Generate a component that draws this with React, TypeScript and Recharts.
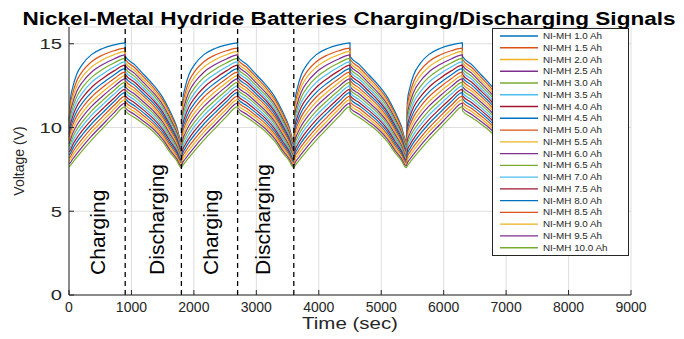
import { LineChart, Line, XAxis, YAxis, CartesianGrid, ReferenceLine, ReferenceDot, Legend, Label } from 'recharts';

const CAPACITIES = ['1.0', '1.5', '2.0', '2.5', '3.0', '3.5', '4.0', '4.5', '5.0', '5.5', '6.0', '6.5', '7.0', '7.5', '8.0', '8.5', '9.0', '9.5', '10.0'];

const COLORS = [
  '#0072BD', '#D95319', '#EDB120', '#7E2F8E', '#77AC30', '#4DBEEE', '#A2142F',
  '#0072BD', '#D95319', '#EDB120', '#7E2F8E', '#77AC30', '#4DBEEE', '#A2142F',
  '#0072BD', '#D95319', '#EDB120', '#7E2F8E', '#77AC30',
];

// one cycle = 900 s charging + 900 s discharging
const CYCLE = 1800;
const CYCLES = 4;

// voltage at t = 0
const START_V = [10.4, 10.26, 10.12, 9.98, 9.84, 9.71, 9.57, 9.43, 9.29, 9.15, 9.02, 8.88, 8.72, 8.54, 8.36, 8.18, 8.0, 7.83, 7.66];

// charging, seconds after the cycle start
const CHARGE_OFFSETS = [20, 60, 120, 220, 360, 540, 720, 900];
const CHARGE_V = [
  [11.6, 12.4, 13.15, 13.8, 14.35, 14.72, 14.93, 15.05],
  [11.3, 12.04, 12.75, 13.38, 13.93, 14.33, 14.58, 14.74],
  [11.05, 11.76, 12.43, 13.06, 13.61, 14.05, 14.34, 14.54],
  [10.8, 11.47, 12.12, 12.73, 13.3, 13.76, 14.09, 14.33],
  [10.56, 11.19, 11.81, 12.41, 12.99, 13.48, 13.85, 14.13],
  [10.33, 10.92, 11.51, 12.1, 12.69, 13.2, 13.61, 13.92],
  [10.1, 10.66, 11.22, 11.8, 12.39, 12.93, 13.38, 13.72],
  [9.88, 10.39, 10.93, 11.5, 12.1, 12.66, 13.14, 13.51],
  [9.66, 10.14, 10.65, 11.21, 11.82, 12.4, 12.91, 13.31],
  [9.44, 9.89, 10.37, 10.92, 11.53, 12.13, 12.67, 13.1],
  [9.23, 9.65, 10.1, 10.65, 11.26, 11.88, 12.44, 12.9],
  [9.02, 9.41, 9.84, 10.37, 10.98, 11.62, 12.21, 12.69],
  [8.82, 9.18, 9.59, 10.11, 10.72, 11.37, 11.98, 12.49],
  [8.63, 8.96, 9.34, 9.85, 10.46, 11.12, 11.75, 12.28],
  [8.44, 8.74, 9.11, 9.6, 10.21, 10.89, 11.54, 12.08],
  [8.25, 8.53, 8.87, 9.35, 9.96, 10.65, 11.31, 11.87],
  [8.07, 8.32, 8.64, 9.11, 9.72, 10.41, 11.09, 11.67],
  [7.89, 8.12, 8.41, 8.88, 9.48, 10.18, 10.87, 11.46],
  [7.72, 7.92, 8.2, 8.65, 9.25, 9.95, 10.65, 11.25],
];

// discharging, seconds after the cycle start (last one = trough)
const DISCHARGE_OFFSETS = [901, 1050, 1200, 1350, 1500, 1620, 1720, 1800];
const DISCHARGE_V = [
  [14.25, 13.75, 13.15, 12.55, 11.8, 10.95, 10.1, 9.2],
  [14.07, 13.58, 12.99, 12.39, 11.65, 10.81, 9.99, 9.11],
  [13.89, 13.4, 12.82, 12.24, 11.51, 10.68, 9.87, 9.02],
  [13.71, 13.23, 12.66, 12.08, 11.36, 10.54, 9.76, 8.93],
  [13.53, 13.05, 12.49, 11.93, 11.21, 10.41, 9.64, 8.84],
  [13.35, 12.88, 12.33, 11.77, 11.06, 10.27, 9.53, 8.76],
  [13.17, 12.7, 12.17, 11.62, 10.92, 10.13, 9.42, 8.67],
  [12.99, 12.53, 12.0, 11.46, 10.77, 10.0, 9.3, 8.58],
  [12.81, 12.35, 11.84, 11.31, 10.62, 9.86, 9.19, 8.49],
  [12.62, 12.18, 11.67, 11.15, 10.48, 9.73, 9.07, 8.4],
  [12.44, 12.0, 11.51, 10.99, 10.33, 9.59, 8.96, 8.31],
  [12.26, 11.83, 11.35, 10.84, 10.18, 9.45, 8.85, 8.22],
  [12.08, 11.65, 11.18, 10.68, 10.03, 9.32, 8.73, 8.13],
  [11.9, 11.48, 11.02, 10.53, 9.89, 9.18, 8.62, 8.04],
  [11.72, 11.3, 10.86, 10.37, 9.74, 9.04, 8.51, 7.96],
  [11.54, 11.13, 10.69, 10.22, 9.59, 8.91, 8.39, 7.87],
  [11.36, 10.95, 10.53, 10.06, 9.45, 8.77, 8.28, 7.78],
  [11.18, 10.78, 10.36, 9.91, 9.3, 8.64, 8.16, 7.69],
  [11.0, 10.6, 10.2, 9.75, 9.15, 8.5, 8.05, 7.6],
];

const X_TICKS = [0, 1000, 2000, 3000, 4000, 5000, 6000, 7000, 8000, 9000];
const Y_TICKS = [0, 5, 10, 15];
const PHASE_EDGES = [900, 1800, 2700, 3600];
const PHASE_LABELS = [
  { text: 'Charging', t: 450 },
  { text: 'Discharging', t: 1395 },
  { text: 'Charging', t: 2270 },
  { text: 'Discharging', t: 3100 },
];

const INK = '#262626';
const FONT = '"Liberation Sans", Arial, Helvetica, sans-serif';

// build the table the chart needs
const rows: Record<string, number>[] = [];
const addRow = (t: number, pick: (i: number) => number) => {
  const r: Record<string, number> = { t };
  CAPACITIES.forEach((_, i) => { r[`s${i}`] = pick(i); });
  rows.push(r);
};
addRow(0, i => START_V[i]);
for (let c = 0; c < CYCLES; c++) {
  const base = c * CYCLE;
  CHARGE_OFFSETS.forEach((off, k) => addRow(base + off, i => CHARGE_V[i][k]));
  DISCHARGE_OFFSETS.forEach((off, k) => addRow(base + off, i => DISCHARGE_V[i][k]));
}

const BottomTick = (props: any) => {
  const { x, y, payload } = props;
  return (
    <g>
      <line x1={x} x2={x} y1={y} y2={y - 5} stroke={INK} />
      <text x={x} y={y + 17} textAnchor="middle" fontSize={14} fill={INK}>{payload.value}</text>
    </g>
  );
};

const TopTick = (props: any) => {
  const { x, y } = props;
  return <line x1={x} x2={x} y1={y} y2={y + 5} stroke={INK} />;
};

const LeftTick = (props: any) => {
  const { x, y, payload } = props;
  return (
    <g>
      <line x1={x} x2={x + 5} y1={y} y2={y} stroke={INK} />
      <text transform={`translate(${x - 7},${y + 5.3}) scale(1.35,1)`} textAnchor="end" fontSize={15} fill={INK}>{payload.value}</text>
    </g>
  );
};

const RightTick = (props: any) => {
  const { x, y } = props;
  return <line x1={x} x2={x - 5} y1={y} y2={y} stroke={INK} />;
};

const PhaseText = (text: string) => (props: any) => (
  <text
    transform={`translate(${props.cx},${props.cy}) rotate(-90)`}
    textAnchor="start"
    dominantBaseline="central"
    fontSize={21}
    fill="#000"
  >
    {text}
  </text>
);

const ROW_H = 11.76;

const LegendBox = () => (
  <svg width={137} height={228} style={{ display: 'block', fontFamily: FONT }}>
    <rect x={0.5} y={0.5} width={136} height={227} fill="#fff" stroke={INK} />
    {CAPACITIES.map((c, i) => {
      const cy = 8 + i * ROW_H;
      return (
        <g key={c}>
          <line x1={8} x2={46} y1={cy} y2={cy} stroke={COLORS[i]} strokeWidth={1.4} />
          <text transform={`translate(51,${cy + 3}) scale(1.2,1)`} fontSize={8.2} fill={INK}>
            NI-MH {c} Ah
          </text>
        </g>
      );
    })}
  </svg>
);

export default function App() {
  return (
    <div style={{ position: 'absolute', left: 0, top: 0, width: 684, height: 339, background: '#fff', fontFamily: FONT }}>
      <LineChart width={684} height={339} data={rows} margin={{ top: 27, right: 53, bottom: 0, left: 0 }}>
        <CartesianGrid stroke="#dedede" />
        <XAxis
          dataKey="t"
          type="number"
          domain={[0, 9000]}
          ticks={X_TICKS}
          interval={0}
          height={44}
          tickSize={0}
          tickMargin={0}
          tick={<BottomTick />}
          axisLine={{ stroke: INK }}
        >
          <Label
            content={(p: any) => (
              <text transform={`translate(${p.viewBox.x + p.viewBox.width / 2},${p.viewBox.y + 34}) scale(1.28,1)`} textAnchor="middle" fontSize={16} fill={INK}>
                Time (sec)
              </text>
            )}
          />
        </XAxis>
        <XAxis
          xAxisId="top"
          dataKey="t"
          orientation="top"
          type="number"
          domain={[0, 9000]}
          ticks={X_TICKS}
          interval={0}
          height={0}
          tickSize={0}
          tickMargin={0}
          tick={<TopTick />}
          axisLine={{ stroke: INK }}
        />
        <YAxis
          type="number"
          domain={[0, 16]}
          ticks={Y_TICKS}
          interval={0}
          width={69}
          tickSize={0}
          tickMargin={0}
          tick={<LeftTick />}
          axisLine={{ stroke: INK }}
        >
          <Label
            content={(p: any) => (
              <text transform={`translate(24,${p.viewBox.y + p.viewBox.height / 2}) rotate(-90)`} textAnchor="middle" fontSize={14} fill={INK}>
                Voltage (V)
              </text>
            )}
          />
        </YAxis>
        <YAxis
          yAxisId="right"
          orientation="right"
          type="number"
          domain={[0, 16]}
          ticks={Y_TICKS}
          interval={0}
          width={0}
          tickSize={0}
          tickMargin={0}
          tick={<RightTick />}
          axisLine={{ stroke: INK }}
        />
        {CAPACITIES.map((c, i) => (
          <Line
            key={c}
            type="monotone"
            dataKey={`s${i}`}
            name={`NI-MH ${c} Ah`}
            stroke={COLORS[i]}
            strokeWidth={1.2}
            dot={false}
            isAnimationActive={false}
          />
        ))}
        {PHASE_EDGES.map(t => (
          <ReferenceLine key={t} x={t} stroke="#000" strokeWidth={1.3} strokeDasharray="5 4" />
        ))}
        {PHASE_LABELS.map((p, i) => (
          <ReferenceDot key={i} x={p.t} y={1.2} r={0} shape={PhaseText(p.text)} />
        ))}
        <Legend
          layout="vertical"
          align="center"
          verticalAlign="middle"
          content={() => <LegendBox />}
          wrapperStyle={{ left: 492, top: 28, width: 137, height: 228 }}
        />
      </LineChart>
      <svg width={684} height={30} style={{ position: 'absolute', left: 0, top: 0, pointerEvents: 'none' }}>
        <text transform="translate(349,25) scale(1.22,1)" textAnchor="middle" fontSize={18.5} fontWeight="bold" fill="#000">
          Nickel-Metal Hydride Batteries Charging/Discharging Signals
        </text>
      </svg>
    </div>
  );
}
